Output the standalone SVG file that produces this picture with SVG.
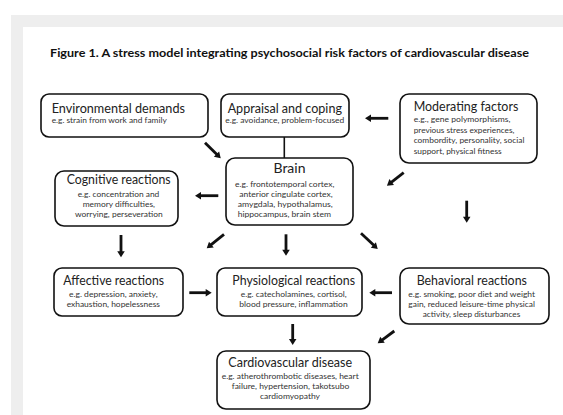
<svg xmlns="http://www.w3.org/2000/svg" width="563" height="415" viewBox="0 0 563 415">
<defs>
<style>
.box{fill:#fff;stroke:#111;stroke-width:1.6}
.t{font-family:Lato,"Liberation Sans",sans-serif;font-size:12.5px;fill:#222}
.s{font-family:Lato,"Liberation Sans",sans-serif;font-size:8.3px;fill:#333}
.m{text-anchor:middle}
.fig{font-family:Lato,"Liberation Sans",sans-serif;font-size:11px;font-weight:bold;fill:#111}
.arr{stroke:#111;stroke-width:2.8;fill:none;marker-end:url(#ah)}
.ln{stroke:#111;stroke-width:1.6;fill:none}
</style>
<marker id="ah" markerUnits="userSpaceOnUse" markerWidth="8" markerHeight="9" refX="1" refY="3.75" orient="auto" overflow="visible">
<path d="M0,0 L6,3.75 L0,7.5 z" fill="#111"/>
</marker>
</defs>
<rect x="0" y="0" width="563" height="415" fill="#fff"/>
<rect x="11" y="15" width="552" height="400" fill="#eeeeee"/>
<rect x="23" y="27" width="540" height="388" fill="#fff"/>
<text class="fig" x="50" y="57" textLength="479" lengthAdjust="spacingAndGlyphs">Figure 1. A stress model integrating psychosocial risk factors of cardiovascular disease</text>

<g id="connectors">
<line class="ln" x1="284.3" y1="137" x2="284.3" y2="158"/>
<line class="arr" x1="205" y1="142.7" x2="217.2" y2="154.8"/>
<line class="arr" x1="388.3" y1="118.3" x2="370" y2="118.3"/>
<line class="arr" x1="403.7" y1="172.7" x2="390.9" y2="182.6"/>
<line class="arr" x1="218.3" y1="195.7" x2="200" y2="195.7"/>
<line class="arr" x1="466.7" y1="200.7" x2="466.7" y2="217.7"/>
<line class="arr" x1="121" y1="235" x2="121" y2="252.3"/>
<line class="arr" x1="224" y1="234.3" x2="210.6" y2="245.2"/>
<line class="arr" x1="286" y1="234.3" x2="286" y2="250.7"/>
<line class="arr" x1="361" y1="233.3" x2="374.1" y2="245.6"/>
<line class="arr" x1="189.3" y1="292.7" x2="206.7" y2="292.7"/>
<line class="arr" x1="392" y1="292.7" x2="374.3" y2="292.7"/>
<line class="arr" x1="292.7" y1="324" x2="292.7" y2="340"/>
<line class="arr" x1="394.3" y1="331" x2="381.7" y2="340.3"/>
</g>

<g id="environmental">
<rect class="box" x="41" y="94" width="167" height="43" rx="8"/>
<text class="t" x="51.7" y="112.7" textLength="133.3" lengthAdjust="spacingAndGlyphs">Environmental demands</text>
<text class="s" x="51.7" y="123.3" textLength="115" lengthAdjust="spacingAndGlyphs">e.g. strain from work and family</text>
</g>

<g id="appraisal">
<rect class="box" x="221" y="94" width="128" height="43" rx="8"/>
<text class="t m" x="284.8" y="112.7" textLength="114.3" lengthAdjust="spacingAndGlyphs">Appraisal and coping</text>
<text class="s m" x="284.8" y="123.3" textLength="119" lengthAdjust="spacingAndGlyphs">e.g. avoidance, problem-focused</text>
</g>

<g id="moderating">
<rect class="box" x="400" y="94" width="137" height="69" rx="9"/>
<text class="t" x="413.7" y="111" textLength="104.6" lengthAdjust="spacingAndGlyphs">Moderating factors</text>
<text class="s" x="413.7" y="122.3" textLength="96.7" lengthAdjust="spacingAndGlyphs">e.g., gene polymorphisms,</text>
<text class="s" x="413.7" y="132.7" textLength="100.7" lengthAdjust="spacingAndGlyphs">previous stress experiences,</text>
<text class="s" x="413.7" y="143.3" textLength="110.7" lengthAdjust="spacingAndGlyphs">combordity, personality, social</text>
<text class="s" x="413.7" y="154" textLength="88" lengthAdjust="spacingAndGlyphs">support, physical fitness</text>
</g>

<g id="brain">
<rect class="box" x="226" y="158" width="127" height="67" rx="9"/>
<text class="t m" x="289.5" y="173.3" textLength="32" lengthAdjust="spacingAndGlyphs">Brain</text>
<text class="s m" x="284.7" y="186.7" textLength="99.3" lengthAdjust="spacingAndGlyphs">e.g. frontotemporal cortex,</text>
<text class="s m" x="286" y="196.7" textLength="93.4" lengthAdjust="spacingAndGlyphs">anterior cingulate cortex,</text>
<text class="s m" x="285.2" y="206.7" textLength="95" lengthAdjust="spacingAndGlyphs">amygdala, hypothalamus,</text>
<text class="s m" x="284.3" y="216.7" textLength="93.3" lengthAdjust="spacingAndGlyphs">hippocampus, brain stem</text>
</g>

<g id="cognitive">
<rect class="box" x="55" y="171" width="123" height="55" rx="9"/>
<text class="t m" x="118.7" y="184" textLength="104" lengthAdjust="spacingAndGlyphs">Cognitive reactions</text>
<text class="s m" x="118.5" y="196.7" textLength="81.6" lengthAdjust="spacingAndGlyphs">e.g. concentration and</text>
<text class="s m" x="118.8" y="206.7" textLength="72.3" lengthAdjust="spacingAndGlyphs">memory difficulties,</text>
<text class="s m" x="118.8" y="216.7" textLength="87.7" lengthAdjust="spacingAndGlyphs">worrying, perseveration</text>
</g>

<g id="affective">
<rect class="box" x="54" y="268" width="129" height="48" rx="8"/>
<text class="t m" x="113.7" y="285" textLength="100.7" lengthAdjust="spacingAndGlyphs">Affective reactions</text>
<text class="s m" x="113.3" y="297" textLength="88.7" lengthAdjust="spacingAndGlyphs">e.g. depression, anxiety,</text>
<text class="s m" x="113.3" y="306.7" textLength="93.3" lengthAdjust="spacingAndGlyphs">exhaustion, hopelessness</text>
</g>

<g id="physiological">
<rect class="box" x="217" y="268" width="145" height="48" rx="8"/>
<text class="t m" x="293.7" y="285" textLength="122.7" lengthAdjust="spacingAndGlyphs">Physiological reactions</text>
<text class="s m" x="293.7" y="297" textLength="106" lengthAdjust="spacingAndGlyphs">e.g. catecholamines, cortisol,</text>
<text class="s m" x="293.5" y="306.7" textLength="108.4" lengthAdjust="spacingAndGlyphs">blood pressure, inflammation</text>
</g>

<g id="behavioral">
<rect class="box" x="400" y="268" width="149" height="56" rx="9"/>
<text class="t m" x="471.8" y="285" textLength="110.3" lengthAdjust="spacingAndGlyphs">Behavioral reactions</text>
<text class="s m" x="471.7" y="296.7" textLength="126.7" lengthAdjust="spacingAndGlyphs">e.g. smoking, poor diet and weight</text>
<text class="s m" x="471.7" y="306.7" textLength="126.7" lengthAdjust="spacingAndGlyphs">gain, reduced leisure-time physical</text>
<text class="s m" x="471.5" y="316.7" textLength="97.6" lengthAdjust="spacingAndGlyphs">activity, sleep disturbances</text>
</g>

<g id="cvd">
<rect class="box" x="217" y="351" width="153" height="58" rx="9"/>
<text class="t m" x="290.2" y="366.7" textLength="123.7" lengthAdjust="spacingAndGlyphs">Cardiovascular disease</text>
<text class="s m" x="290.2" y="379" textLength="137" lengthAdjust="spacingAndGlyphs">e.g. atherothrombotic diseases, heart</text>
<text class="s m" x="290.5" y="389" textLength="117.6" lengthAdjust="spacingAndGlyphs">failure, hypertension, takotsubo</text>
<text class="s m" x="290" y="399" textLength="60" lengthAdjust="spacingAndGlyphs">cardiomyopathy</text>
</g>
</svg>
